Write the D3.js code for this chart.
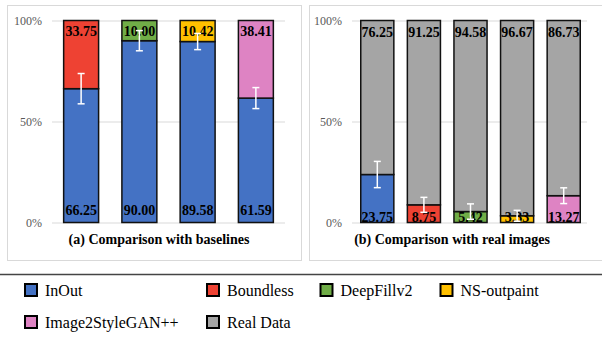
<!DOCTYPE html>
<html>
<head>
<meta charset="utf-8">
<script src="https://cdn.jsdelivr.net/npm/d3@7"></script>
<style>
  html, body { margin: 0; padding: 0; background: #fff; }
  svg { display: block; font-family: "Liberation Serif", "Times New Roman", serif; }
</style>
</head>
<body>
<svg id="chart" width="602" height="339"></svg>
<script>
// User-study preference rates (%), InOut vs. baselines and methods vs. real images
const baselineMethods = ["Boundless", "DeepFillv2", "NS-outpaint", "Image2StyleGAN++"];
const inOutShare = [66.25, 90.00, 89.58, 61.59];
const baselineShare = [33.75, 10.00, 10.42, 38.41];
const inOutError = [7.5, 5.0, 4.0, 5.2];

const realMethods = ["InOut", "Boundless", "DeepFillv2", "NS-outpaint", "Image2StyleGAN++"];
const methodShare = [23.75, 8.75, 5.42, 3.33, 13.27];
const realShare = [76.25, 91.25, 94.58, 96.67, 86.73];
const methodError = [6.5, 3.7, 3.8, 2.7, 3.9];

const yTicks = [0, 50, 100];
const legendLabels = ["InOut", "Boundless", "DeepFillv2", "NS-outpaint", "Image2StyleGAN++", "Real Data"];
const legendColors = ["#4472C4", "#EE4233", "#70AD47", "#FFC000", "#DE83C3", "#A5A5A5"];
const panelTitles = ["(a) Comparison with baselines", "(b) Comparison with real images"];

const colorOf = d3.scaleOrdinal().domain(legendLabels).range(legendColors);
const svg = d3.select("#chart");

// panel frames
svg.append("rect").attr("x", 7.5).attr("y", 5.5).attr("width", 294).attr("height", 255)
  .attr("fill", "none").attr("stroke", "#d9d9d9").attr("stroke-width", 1);
svg.append("rect").attr("x", 309.5).attr("y", 5.5).attr("width", 300).attr("height", 255)
  .attr("fill", "none").attr("stroke", "#d9d9d9").attr("stroke-width", 1);

const y = d3.scaleLinear().domain([0, 100]).range([222.5, 20.5]);

function drawPanel(cfg) {
  const g = svg.append("g");
  const x = d3.scaleBand().domain(cfg.cats).range(cfg.xRange)
    .paddingInner(cfg.padIn).paddingOuter(cfg.padOut);

  // gridlines + tick labels
  const axis = d3.axisLeft(y).tickValues(yTicks).tickFormat(d => d + "%")
    .tickSizeInner(-(cfg.gridRange[1] - cfg.gridRange[0])).tickSizeOuter(0).tickPadding(10);
  const ag = g.append("g").attr("transform", `translate(${cfg.gridRange[0]},0)`).call(axis);
  ag.select(".domain").remove();
  ag.selectAll(".tick line").attr("stroke", "#d9d9d9").attr("stroke-width", 1);
  ag.selectAll(".tick text").attr("fill", "#595959").attr("font-size", 12)
    .attr("font-family", "Liberation Serif, serif");

  const rows = cfg.cats.map((c, i) => ({
    cat: c, bottom: cfg.bottom[i], top: cfg.top[i], err: cfg.err[i],
    bottomColor: colorOf(cfg.bottomKey(c)), topColor: colorOf(cfg.topKey(c))
  }));

  const bars = g.selectAll(".bar").data(rows).join("g").attr("class", "bar");
  bars.append("rect")
    .attr("x", d => x(d.cat)).attr("width", x.bandwidth())
    .attr("y", d => y(d.bottom)).attr("height", d => y(0) - y(d.bottom))
    .attr("fill", d => d.bottomColor).attr("stroke", "#111").attr("stroke-width", 1.5);
  bars.append("rect")
    .attr("x", d => x(d.cat)).attr("width", x.bandwidth())
    .attr("y", d => y(d.bottom + d.top)).attr("height", d => y(d.bottom) - y(d.bottom + d.top))
    .attr("fill", d => d.topColor).attr("stroke", "#111").attr("stroke-width", 1.5);

  // value labels
  bars.append("text")
    .attr("x", d => x(d.cat) + x.bandwidth() / 2)
    .attr("y", d => y(d.bottom + d.top) + cfg.topLabelDy)
    .attr("text-anchor", "middle").attr("font-size", 14).attr("font-weight", "bold")
    .attr("fill", "#000").text(d => d.top.toFixed(2));
  bars.append("text")
    .attr("x", d => x(d.cat) + x.bandwidth() / 2)
    .attr("y", d => y(0) - cfg.bottomLabelDy)
    .attr("text-anchor", "middle").attr("font-size", 14).attr("font-weight", "bold")
    .attr("fill", "#000").text(d => d.bottom.toFixed(2));

  // error bars at the segment boundary
  const eb = bars.append("g").attr("stroke", "#fff").attr("stroke-width", 1.5);
  eb.append("line")
    .attr("x1", d => x(d.cat) + x.bandwidth() / 2).attr("x2", d => x(d.cat) + x.bandwidth() / 2)
    .attr("y1", d => y(d.bottom + d.err)).attr("y2", d => y(d.bottom - d.err));
  [1, -1].forEach(s => {
    eb.append("line")
      .attr("x1", d => x(d.cat) + x.bandwidth() / 2 - 3.5).attr("x2", d => x(d.cat) + x.bandwidth() / 2 + 3.5)
      .attr("y1", d => y(d.bottom + s * d.err)).attr("y2", d => y(d.bottom + s * d.err));
  });

  g.append("text").attr("x", cfg.titleX).attr("y", 244)
    .attr("text-anchor", "middle").attr("font-size", 14).attr("font-weight", "bold")
    .attr("fill", "#000").text(cfg.title);
}

drawPanel({
  cats: baselineMethods, bottom: inOutShare, top: baselineShare, err: inOutError,
  bottomKey: () => "InOut", topKey: c => c,
  xRange: [52, 285], gridRange: [52, 285], padIn: 0.4, padOut: 0.2,
  topLabelDy: 15.5, bottomLabelDy: 7.5, titleX: 159, title: panelTitles[0]
});
drawPanel({
  cats: realMethods, bottom: methodShare, top: realShare, err: methodError,
  bottomKey: c => c, topKey: () => "Real Data",
  xRange: [354, 587], gridRange: [352, 587], padIn: 0.29, padOut: 0.145,
  topLabelDy: 16, bottomLabelDy: 1, titleX: 452, title: panelTitles[1]
});

// separator rule
svg.append("line").attr("x1", 0).attr("x2", 602).attr("y1", 274.5).attr("y2", 274.5)
  .attr("stroke", "#444").attr("stroke-width", 1.5);

// legend
const legendCols = [24, 206, 319.5, 439.5];
const legendRows = [290, 322];
const leg = svg.append("g").selectAll("g").data(legendLabels).join("g")
  .attr("transform", (d, i) => `translate(${legendCols[i % 4]},${legendRows[Math.floor(i / 4)]})`);
leg.append("rect").attr("x", 1).attr("y", -6).attr("width", 12).attr("height", 12)
  .attr("fill", d => colorOf(d)).attr("stroke", "#000").attr("stroke-width", 2);
leg.append("text").attr("x", 21).attr("y", 5.5).attr("font-size", 16).attr("fill", "#000")
  .text(d => d);
</script>
</body>
</html>
